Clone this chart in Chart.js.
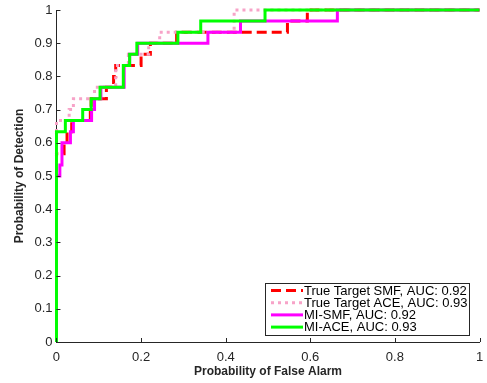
<!DOCTYPE html>
<html>
<head>
<meta charset="utf-8">
<script src="https://cdn.jsdelivr.net/npm/chart.js@4.4.1/dist/chart.umd.min.js"></script>
<style>
  html, body { margin: 0; padding: 0; background: #fff; }
  #wrap { width: 487px; height: 383px; }
</style>
</head>
<body>
<div id="wrap"><canvas id="roc"></canvas></div>
<script>
// ROC corner points (false alarm rate, detection rate)
const smfFpr = [0, 0, 0.018, 0.018, 0.025, 0.025, 0.036, 0.036, 0.08, 0.08, 0.082, 0.082, 0.118, 0.118, 0.135, 0.135, 0.14, 0.14, 0.2, 0.2, 0.222, 0.222, 0.284, 0.284, 0.546, 0.546, 0.593, 0.593, 1];
const smfTpr = [0, 0.567, 0.567, 0.6, 0.6, 0.633, 0.633, 0.667, 0.667, 0.7, 0.7, 0.733, 0.733, 0.767, 0.767, 0.8, 0.8, 0.833, 0.833, 0.867, 0.867, 0.9, 0.9, 0.933, 0.933, 0.967, 0.967, 1, 1];

const aceFpr = [0, 0, 0.03, 0.03, 0.04, 0.04, 0.09, 0.09, 0.14, 0.14, 0.17, 0.17, 0.218, 0.218, 0.244, 0.244, 0.42, 0.42, 1];
const aceTpr = [0, 0.667, 0.667, 0.7, 0.7, 0.733, 0.733, 0.767, 0.767, 0.833, 0.833, 0.867, 0.867, 0.9, 0.9, 0.933, 0.933, 1, 1];

const miSmfFpr = [0, 0, 0.008, 0.008, 0.013, 0.013, 0.033, 0.033, 0.04, 0.04, 0.083, 0.083, 0.09, 0.09, 0.105, 0.105, 0.16, 0.16, 0.173, 0.173, 0.192, 0.192, 0.358, 0.358, 0.435, 0.435, 0.664, 0.664, 1];
const miSmfTpr = [0, 0.5, 0.5, 0.533, 0.533, 0.6, 0.6, 0.633, 0.633, 0.667, 0.667, 0.7, 0.7, 0.733, 0.733, 0.767, 0.767, 0.833, 0.833, 0.867, 0.867, 0.9, 0.9, 0.933, 0.933, 0.967, 0.967, 1, 1];

const miAceFpr = [0, 0, 0.021, 0.021, 0.062, 0.062, 0.082, 0.082, 0.103, 0.103, 0.158, 0.158, 0.173, 0.173, 0.19, 0.19, 0.287, 0.287, 0.341, 0.341, 0.493, 0.493, 1];
const miAceTpr = [0, 0.633, 0.633, 0.667, 0.667, 0.7, 0.7, 0.733, 0.733, 0.767, 0.767, 0.833, 0.833, 0.867, 0.867, 0.9, 0.9, 0.933, 0.933, 0.967, 0.967, 1, 1];

const seriesNames = ["True Target SMF, AUC: 0.92", "True Target ACE, AUC: 0.93", "MI-SMF, AUC: 0.92", "MI-ACE, AUC: 0.93"];
const xTicks = [0, 0.2, 0.4, 0.6, 0.8, 1];
const yTicks = [0, 0.1, 0.2, 0.3, 0.4, 0.5, 0.6, 0.7, 0.8, 0.9, 1];

const axisColor = "#262626";
const font = "'Liberation Sans', Arial, sans-serif";

function points(xs, ys) {
  return xs.map((x, i) => ({ x: x, y: ys[i] }));
}

// ticks pointing into the plot, like the original figure
const innerTicks = {
  id: "innerTicks",
  afterDatasetsDraw(chart) {
    const ctx = chart.ctx;
    const xs = chart.scales.x, ys = chart.scales.y;
    const area = chart.chartArea;
    ctx.save();
    ctx.strokeStyle = axisColor;
    ctx.lineWidth = 1;
    ctx.beginPath();
    xTicks.forEach((v) => {
      const px = Math.round(xs.getPixelForValue(v)) + 0.5;
      ctx.moveTo(px, area.bottom);
      ctx.lineTo(px, area.bottom - 4);
    });
    yTicks.forEach((v) => {
      const py = Math.round(ys.getPixelForValue(v)) + 0.5;
      ctx.moveTo(area.left, py);
      ctx.lineTo(area.left + 4, py);
    });
    ctx.stroke();
    ctx.restore();
  },
};

// boxed legend in the lower right corner
const boxLegend = {
  id: "boxLegend",
  afterDraw(chart) {
    const ctx = chart.ctx;
    const left = 265, top = 283, width = 204, height = 52;
    ctx.save();
    ctx.fillStyle = "#fff";
    ctx.fillRect(left, top, width, height);
    ctx.strokeStyle = axisColor;
    ctx.lineWidth = 1;
    ctx.strokeRect(left + 0.5, top + 0.5, width, height);
    ctx.font = "13px " + font;
    ctx.textBaseline = "middle";
    chart.data.datasets.forEach((ds, i) => {
      const y = top + 7.5 + i * 12.2;
      ctx.strokeStyle = ds.borderColor;
      ctx.lineWidth = ds.borderWidth;
      ctx.setLineDash(ds.borderDash || []);
      ctx.beginPath();
      ctx.moveTo(271, y);
      ctx.lineTo(303, y);
      ctx.stroke();
      ctx.setLineDash([]);
      ctx.fillStyle = "#000";
      ctx.fillText(ds.label, 304, y + 0.5);
    });
    ctx.restore();
  },
};

new Chart(document.getElementById("roc"), {
  type: "line",
  data: {
    datasets: [
      {
        label: seriesNames[0],
        data: points(smfFpr, smfTpr),
        borderColor: "#ff0000",
        borderWidth: 3,
        borderDash: [10, 5],
        order: 3,
      },
      {
        label: seriesNames[1],
        data: points(aceFpr, aceTpr),
        borderColor: "#f7a3c8",
        borderWidth: 3,
        borderDash: [3, 4],
        order: 2,
      },
      {
        label: seriesNames[2],
        data: points(miSmfFpr, miSmfTpr),
        borderColor: "#ff00ff",
        borderWidth: 3,
        order: 1,
      },
      {
        label: seriesNames[3],
        data: points(miAceFpr, miAceTpr),
        borderColor: "#00ff00",
        borderWidth: 3,
        order: 0,
      },
    ],
  },
  options: {
    responsive: true,
    maintainAspectRatio: false,
    animation: false,
    layout: { padding: { left: 8, right: 7.5, top: 10, bottom: 2 } },
    elements: {
      point: { radius: 0 },
      line: { tension: 0, fill: false },
    },
    datasets: { line: { clip: 4 } },
    plugins: {
      legend: { display: false },
      tooltip: { enabled: false },
    },
    scales: {
      x: {
        type: "linear",
        min: 0,
        max: 1,
        afterBuildTicks: (s) => { s.ticks = xTicks.map((v) => ({ value: v })); },
        afterFit: (s) => { s.paddingRight = 0; },
        grid: { drawOnChartArea: false, drawTicks: false },
        border: { color: axisColor, width: 1 },
        ticks: {
          color: axisColor,
          padding: 8,
          font: { family: font, size: 13 },
          callback: (v) => String(v),
        },
        title: {
          display: true,
          text: "Probability of False Alarm",
          color: axisColor,
          padding: { top: -9, bottom: 2 },
          font: { family: font, size: 12, weight: "bold" },
        },
      },
      y: {
        type: "linear",
        min: 0,
        max: 1,
        afterBuildTicks: (s) => { s.ticks = yTicks.map((v) => ({ value: v })); },
        afterFit: (s) => { s.paddingTop = 0; },
        grid: { drawOnChartArea: false, drawTicks: false },
        border: { color: axisColor, width: 1 },
        ticks: {
          color: axisColor,
          padding: 4,
          font: { family: font, size: 13 },
          callback: (v) => String(v),
        },
        title: {
          display: true,
          text: "Probability of Detection",
          color: axisColor,
          padding: { top: 4, bottom: 4 },
          font: { family: font, size: 12, weight: "bold" },
        },
      },
    },
  },
  plugins: [innerTicks, boxLegend],
});
</script>
</body>
</html>
